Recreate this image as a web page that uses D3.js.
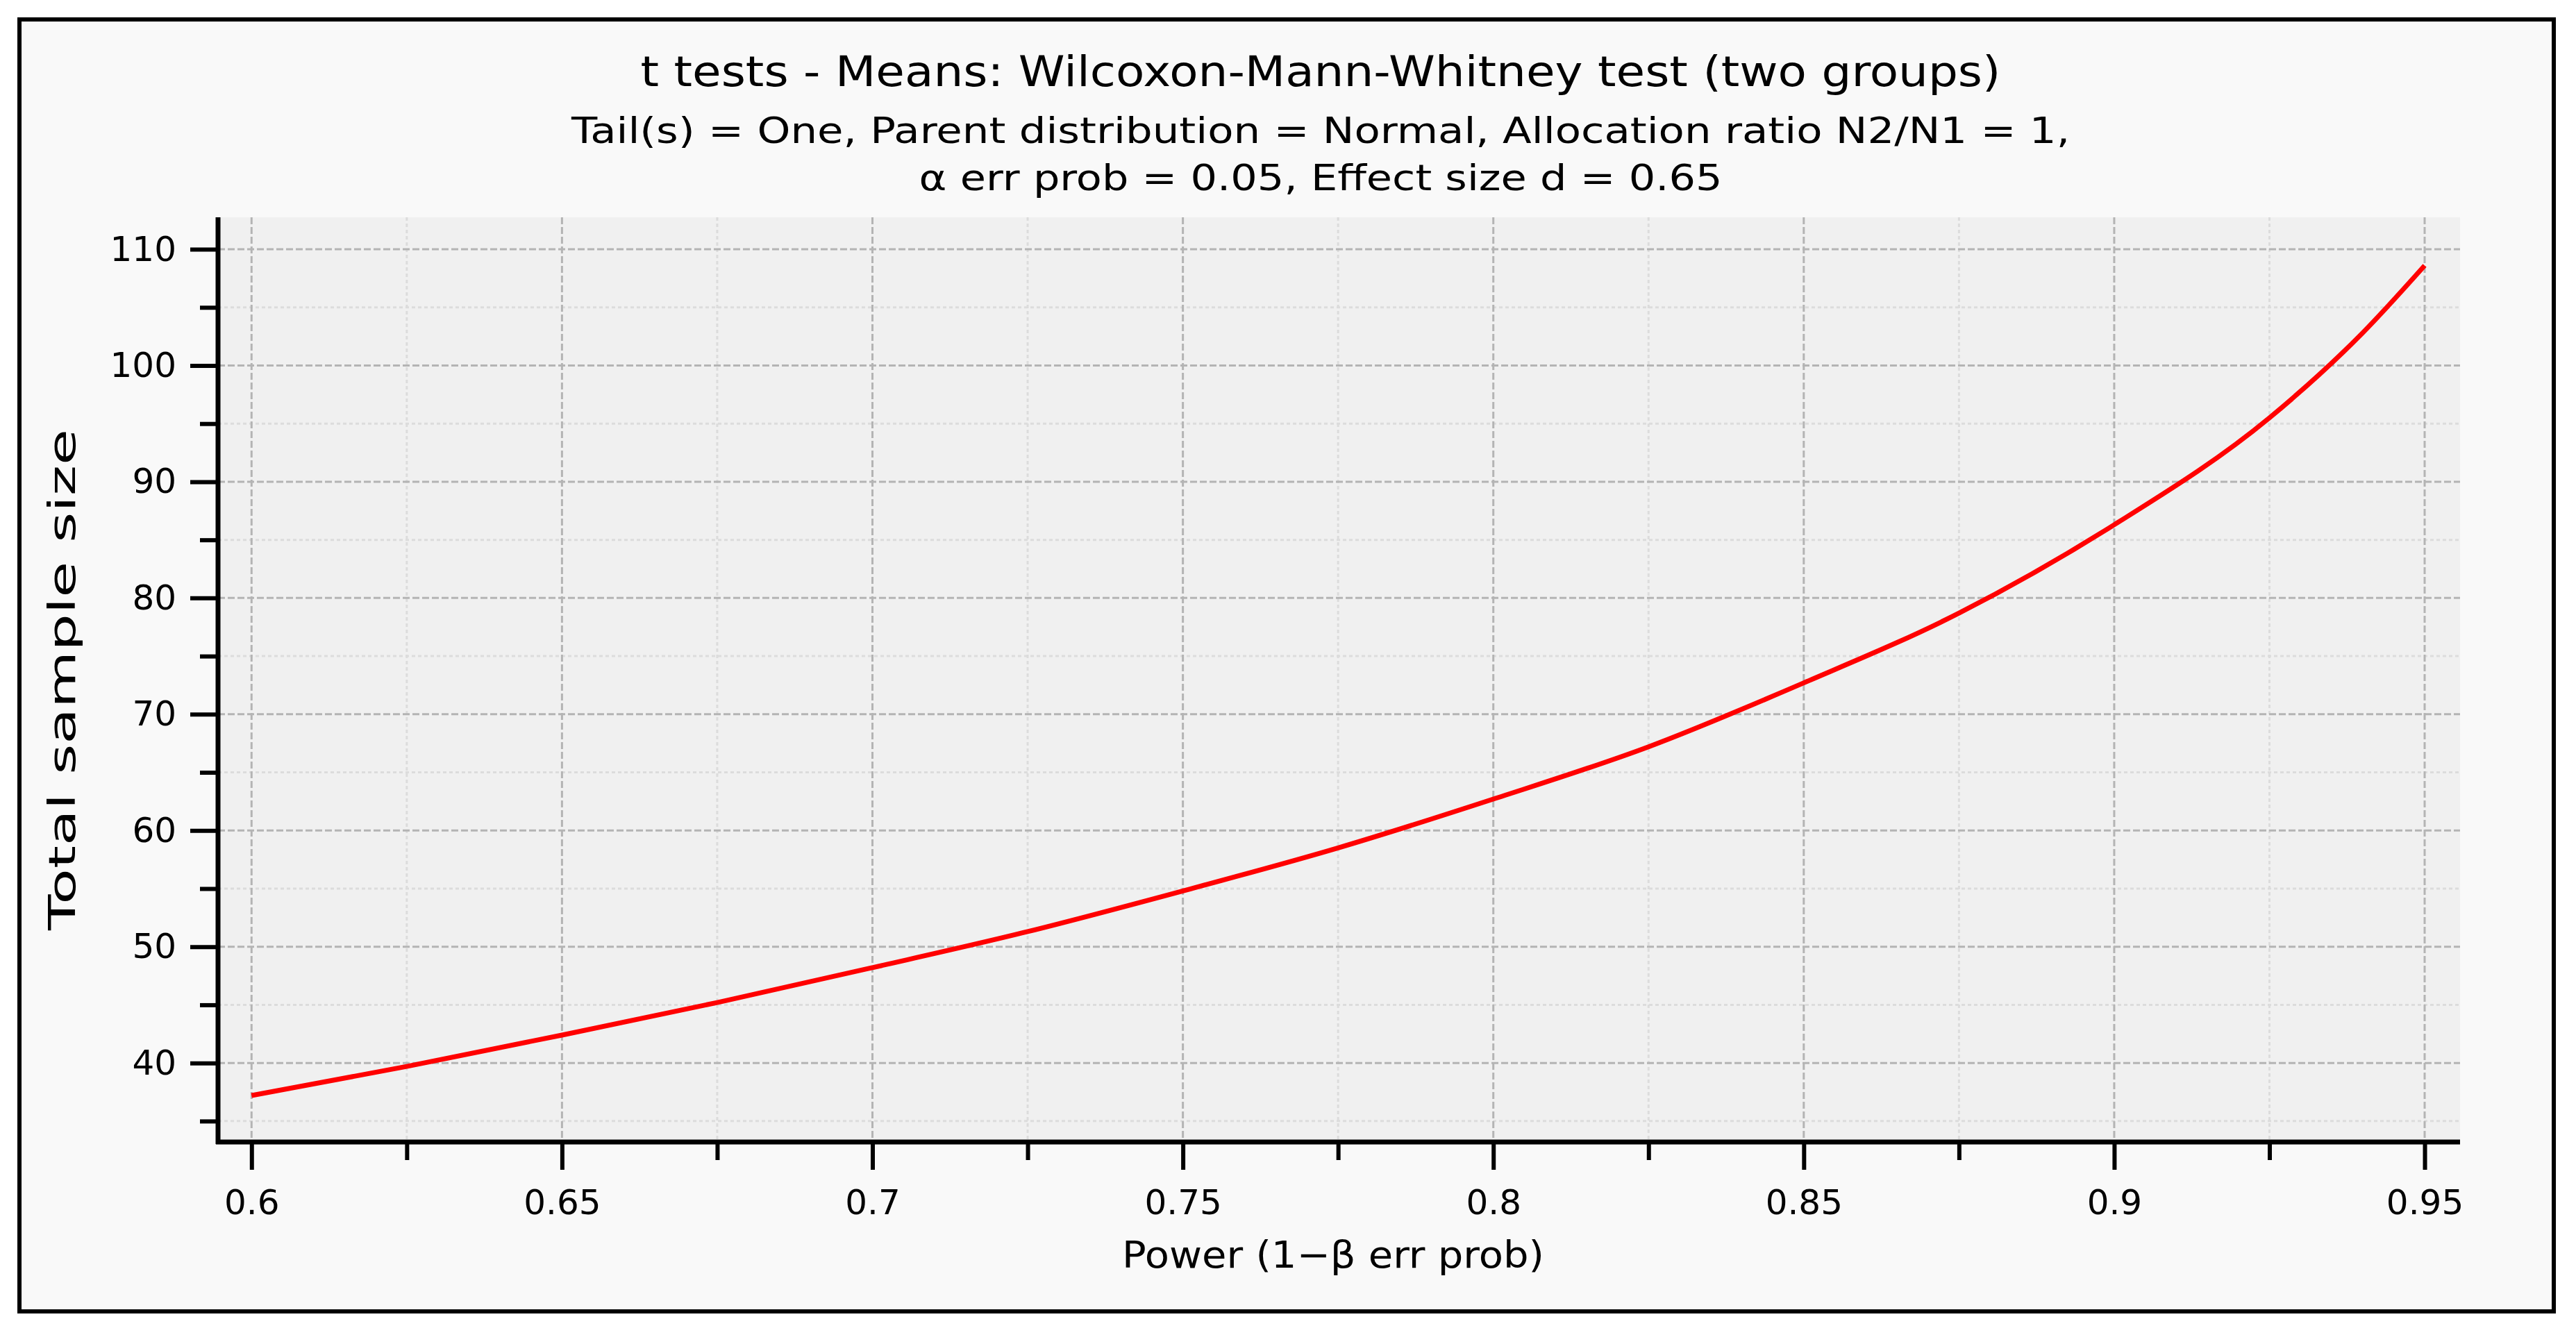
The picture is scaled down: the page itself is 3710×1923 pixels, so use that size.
<!DOCTYPE html>
<html><head><meta charset="utf-8">
<script src="https://cdn.jsdelivr.net/npm/d3@7"></script>
<style>body{margin:0;background:#fff}svg{display:block}text{font-family:"DejaVu Sans",sans-serif;fill:#000}</style>
</head><body><svg id="c" width="3710" height="1923"></svg>
<script>
const powerValues=[0.6,0.625,0.65,0.675,0.7,0.725,0.75,0.775,0.8,0.825,0.85,0.875,0.9,0.925,0.94,0.95];
const sampleSizes=[37.2,39.7,42.4,45.2,48.2,51.3,54.8,58.5,62.7,67.2,72.7,78.7,86.3,95.5,102.8,108.6];
const xMajorTicks=[0.6,0.65,0.7,0.75,0.8,0.85,0.9,0.95];
const xMinorTicks=[0.625,0.675,0.725,0.775,0.825,0.875,0.925];
const yMajorTicks=[40,50,60,70,80,90,100,110];
const yMinorTicks=[35,45,55,65,75,85,95,105];
const titleText="t tests - Means: Wilcoxon-Mann-Whitney test (two groups)";
const subtitle1="Tail(s) = One, Parent distribution = Normal, Allocation ratio N2/N1 = 1,";
const subtitle2="α err prob = 0.05, Effect size d = 0.65";
const xLabel="Power (1−β err prob)";
const yLabel="Total sample size";

const svg=d3.select("#c");
const L=314,R=3543,T=313,B=1645;
const x=d3.scaleLinear().domain([0.5946,0.9557]).range([L,R]);
const y=d3.scaleLinear().domain([33.2,112.75]).range([B,T]);

svg.append("rect").attr("x",28).attr("y",28).attr("width",3650).attr("height",1861).attr("fill","#f9f9f9").attr("stroke","#000").attr("stroke-width",6);
svg.append("rect").attr("x",L).attr("y",T).attr("width",R-L).attr("height",B-T).attr("fill","#f0f0f0");

const g=svg.append("g");
g.selectAll(".xm").data(xMinorTicks).join("line").attr("x1",d=>x(d)).attr("x2",d=>x(d)).attr("y1",T).attr("y2",B).attr("stroke","#dcdcdc").attr("stroke-width",3).attr("stroke-dasharray","5 4");
g.selectAll(".ym").data(yMinorTicks).join("line").attr("y1",d=>y(d)).attr("y2",d=>y(d)).attr("x1",L).attr("x2",R).attr("stroke","#dcdcdc").attr("stroke-width",3).attr("stroke-dasharray","5 4");
g.selectAll(".xM").data(xMajorTicks).join("line").attr("x1",d=>x(d)).attr("x2",d=>x(d)).attr("y1",T).attr("y2",B).attr("stroke","#b4b4b4").attr("stroke-width",3).attr("stroke-dasharray","10 4");
g.selectAll(".yM").data(yMajorTicks).join("line").attr("y1",d=>y(d)).attr("y2",d=>y(d)).attr("x1",L).attr("x2",R).attr("stroke","#b4b4b4").attr("stroke-width",3).attr("stroke-dasharray","10 4");

const line=d3.line().x((d,i)=>x(powerValues[i])).y(d=>y(d)).curve(d3.curveMonotoneX);
svg.append("path").attr("d",line(sampleSizes)).attr("fill","none").attr("stroke","#ff0000").attr("stroke-width",7);

// axes
const xa=svg.append("g").attr("transform",`translate(0,${B})`).call(d3.axisBottom(x).tickValues(xMajorTicks).tickSize(40).tickPadding(28).tickFormat(d=>String(d)));
const xm=svg.append("g").attr("transform",`translate(0,${B})`).call(d3.axisBottom(x).tickValues(xMinorTicks).tickSize(26).tickFormat(""));
const ya=svg.append("g").attr("transform",`translate(${L},0)`).call(d3.axisLeft(y).tickValues(yMajorTicks).tickSize(40).tickPadding(20));
const ym=svg.append("g").attr("transform",`translate(${L},0)`).call(d3.axisLeft(y).tickValues(yMinorTicks).tickSize(26).tickFormat(""));
[xa,xm,ya,ym].forEach(a=>{a.selectAll("line").attr("stroke","#000").attr("stroke-width",6);a.select(".domain").remove();a.selectAll("text").style("font-size","50px").attr("font-family","DejaVu Sans");});
svg.append("line").attr("x1",L-3).attr("x2",R).attr("y1",B).attr("y2",B).attr("stroke","#000").attr("stroke-width",7);
svg.append("line").attr("x1",L).attr("x2",L).attr("y1",T).attr("y2",B+3).attr("stroke","#000").attr("stroke-width",7);

const cx=(L+R)/2;
function txt(s,xx,yy,size,len){return svg.append("text").attr("x",xx).attr("y",yy).attr("text-anchor","middle").style("font-size",size+"px").attr("textLength",len).attr("lengthAdjust","spacingAndGlyphs").text(s);}
txt(titleText,1902,124,60,1959);
txt(subtitle1,1902,206,52,2158);
txt(subtitle2,1902,274,52,1157);
txt(xLabel,1920,1826,54,608);
txt(yLabel,0,0,54,722).attr("transform",`translate(108,979) rotate(-90)`);
</script></body></html>
